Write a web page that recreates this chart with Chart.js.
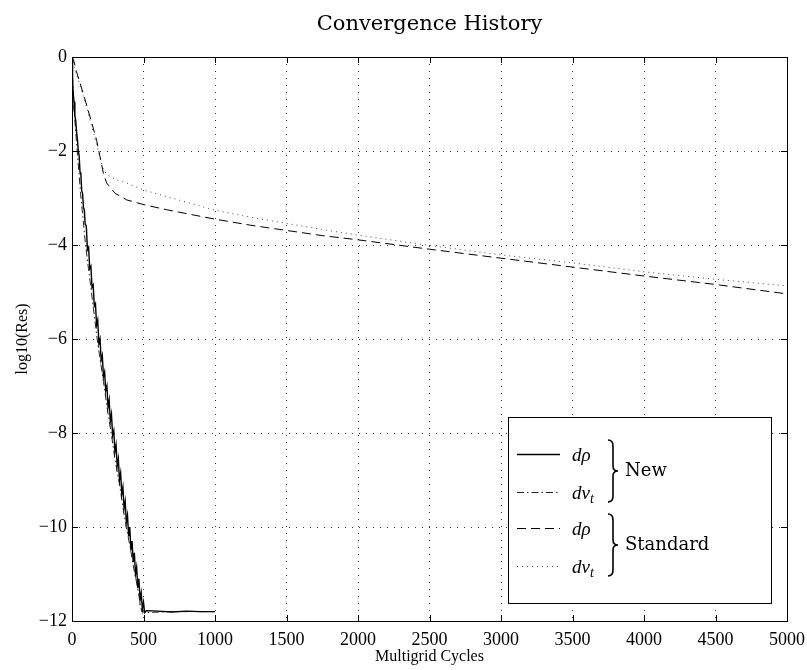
<!DOCTYPE html>
<html lang="en">
<head>
    <meta charset="UTF-8">
    <title>Convergence History</title>
    <script src="https://cdn.jsdelivr.net/npm/chart.js"></script>
    <style>
        body { margin: 0; background: #fff; }
        #wrap { width: 807px; height: 670px; }
    </style>
</head>
<body>
    <div id="wrap"><canvas id="convChart"></canvas></div>

    <script>
        // New scheme, d rho (solid)
        const newRhoX = [0, 4, 8, 14, 20, 26, 32, 38, 44, 50, 56, 62, 68, 74, 80, 86, 92, 100, 108, 116, 124, 132, 140, 148, 156, 164, 172, 180, 188, 196, 204, 212, 220, 228, 236, 244, 252, 260, 268, 276, 284, 292, 300, 308, 316, 324, 332, 340, 348, 356, 364, 372, 380, 388, 396, 404, 412, 420, 428, 436, 444, 452, 460, 468, 476, 484, 492, 500, 508, 520, 600, 700, 800, 900, 1000];
        const newRhoY = [-0.05, -0.45, -0.75, -0.95, -1.25, -1.35, -1.6, -1.75, -2.0, -2.1, -2.45, -2.5, -2.85, -2.9, -3.2, -3.25, -3.55, -3.6, -4.1, -4.05, -4.5, -4.45, -4.9, -4.85, -5.3, -5.25, -5.7, -5.6, -6.1, -6.0, -6.45, -6.35, -6.8, -6.7, -7.1, -7.0, -7.45, -7.3, -7.75, -7.6, -8.05, -7.95, -8.4, -8.25, -8.7, -8.55, -9.0, -8.85, -9.3, -9.15, -9.6, -9.45, -9.9, -9.75, -10.2, -10.0, -10.5, -10.3, -10.75, -10.55, -11.0, -10.85, -11.3, -11.1, -11.55, -11.4, -11.75, -11.6, -11.82, -11.78, -11.79, -11.81, -11.79, -11.8, -11.8];

        // New scheme, d nu_t (dash-dot)
        const newNuX = [0, 5, 10, 30, 60, 95, 115, 130, 150, 176, 200, 220, 245, 274, 300, 330, 355, 379, 405, 430, 450, 470, 487, 520, 700, 1000];
        const newNuY = [-0.1, -0.6, -0.95, -1.75, -2.9, -4.0, -4.5, -4.85, -5.35, -6.0, -6.5, -6.9, -7.45, -8.0, -8.55, -9.05, -9.55, -10.0, -10.4, -10.85, -11.15, -11.5, -11.8, -11.82, -11.8, -11.8];

        // Standard scheme, d rho (dashed)
        const stdRhoX = [0, 10, 30, 56, 100, 138, 172, 196, 219, 242, 301, 382, 500, 662, 1000, 1250, 1500, 1750, 2000, 2500, 3000, 3500, 4000, 4500, 5000];
        const stdRhoY = [0, -0.05, -0.3, -0.55, -1.0, -1.4, -1.77, -2.12, -2.47, -2.68, -2.9, -3.04, -3.14, -3.25, -3.45, -3.58, -3.69, -3.8, -3.89, -4.09, -4.28, -4.47, -4.66, -4.84, -5.04];

        // Standard scheme, d nu_t (dotted)
        const stdNuX = [0, 14, 50, 100, 140, 184, 215, 242, 300, 382, 500, 615, 1000, 1250, 1500, 1750, 2000, 2500, 3000, 3500, 4000, 4500, 5000];
        const stdNuY = [0, -0.2, -0.55, -1.05, -1.5, -2.0, -2.35, -2.5, -2.6, -2.68, -2.83, -2.93, -3.26, -3.41, -3.54, -3.67, -3.79, -4.01, -4.21, -4.38, -4.57, -4.73, -4.87];

        const legendSymbols = ['dρ', 'dν', 'dρ', 'dν'];
        const legendSubs = ['', 't', '', 't'];
        const legendGroups = ['New', 'Standard'];
        const chartTitle = 'Convergence History';

        const toPoints = (xs, ys) => xs.map((x, i) => ({ x: x, y: ys[i] }));
        const serif = 'Liberation Serif';
        const cmLike = 'DejaVu Serif';

        // title over the plot, box, inward tick marks and the bracketed legend
        const framePlugin = {
            id: 'frame',
            afterDraw(chart) {
                const ctx = chart.ctx;
                const a = chart.chartArea;
                const xs = chart.scales.x, ys = chart.scales.y;
                ctx.save();

                ctx.fillStyle = '#000';
                ctx.font = '21px ' + cmLike;
                ctx.textAlign = 'center';
                ctx.textBaseline = 'middle';
                ctx.fillText(chartTitle, (a.left + a.right) / 2, 25);

                ctx.strokeStyle = '#000';
                ctx.lineWidth = 1;
                ctx.setLineDash([]);
                ctx.strokeRect(a.left + 0.5, a.top + 0.5, a.right - a.left, a.bottom - a.top);
                ctx.beginPath();
                xs.ticks.forEach(t => {
                    const px = Math.round(xs.getPixelForValue(t.value)) + 0.5;
                    ctx.moveTo(px, a.bottom); ctx.lineTo(px, a.bottom - 6);
                    ctx.moveTo(px, a.top); ctx.lineTo(px, a.top + 6);
                });
                ys.ticks.forEach(t => {
                    const py = Math.round(ys.getPixelForValue(t.value)) + 0.5;
                    ctx.moveTo(a.left, py); ctx.lineTo(a.left + 6, py);
                    ctx.moveTo(a.right, py); ctx.lineTo(a.right - 6, py);
                });
                ctx.stroke();

                // legend box
                const bx = a.right - 279, by = a.bottom - 204, bw = 263, bh = 186;
                ctx.fillStyle = '#fff';
                ctx.fillRect(bx, by, bw, bh);
                ctx.strokeRect(bx + 0.5, by + 0.5, bw, bh);

                const rowY = [37, 75, 111, 149];
                ctx.textAlign = 'left';
                chart.data.datasets.forEach((ds, i) => {
                    const y = by + rowY[i] + 0.5;
                    ctx.strokeStyle = ds.borderColor;
                    ctx.lineWidth = ds.borderWidth;
                    ctx.setLineDash(ds.borderDash || []);
                    ctx.beginPath();
                    ctx.moveTo(bx + 9, y); ctx.lineTo(bx + 52, y);
                    ctx.stroke();
                    ctx.setLineDash([]);
                    ctx.fillStyle = '#000';
                    ctx.textBaseline = 'alphabetic';
                    ctx.font = 'italic 19px ' + serif;
                    ctx.fillText(legendSymbols[i], bx + 64, y + 6);
                    if (legendSubs[i]) {
                        const w = ctx.measureText(legendSymbols[i]).width;
                        ctx.font = 'italic 14px ' + serif;
                        ctx.fillText(legendSubs[i], bx + 64 + w, y + 10);
                    }
                });

                // braces and group names
                ctx.strokeStyle = '#000';
                ctx.lineWidth = 1.6;
                [[23, 85], [97, 159]].forEach((r, g) => {
                    const top = by + r[0], bot = by + r[1], mid = (top + bot) / 2;
                    const x0 = bx + 100, x1 = bx + 105, x2 = bx + 110;
                    ctx.beginPath();
                    ctx.moveTo(x0, top);
                    ctx.quadraticCurveTo(x1, top, x1, top + 6);
                    ctx.lineTo(x1, mid - 5);
                    ctx.quadraticCurveTo(x1, mid, x2, mid);
                    ctx.quadraticCurveTo(x1, mid, x1, mid + 5);
                    ctx.lineTo(x1, bot - 6);
                    ctx.quadraticCurveTo(x1, bot, x0, bot);
                    ctx.stroke();
                    ctx.fillStyle = '#000';
                    ctx.font = '18px ' + cmLike;
                    ctx.textBaseline = 'middle';
                    ctx.fillText(legendGroups[g], bx + 117, mid);
                });
                ctx.restore();
            }
        };

        const ctx = document.getElementById('convChart').getContext('2d');
        const chart = new Chart(ctx, {
            type: 'line',
            data: {
                datasets: [
                    { label: 'New dρ', data: toPoints(newRhoX, newRhoY), borderColor: '#000', borderWidth: 1.4, borderDash: [] },
                    { label: 'New dνt', data: toPoints(newNuX, newNuY), borderColor: '#222', borderWidth: 1, borderDash: [7, 3, 1.5, 3] },
                    { label: 'Standard dρ', data: toPoints(stdRhoX, stdRhoY), borderColor: '#000', borderWidth: 1, borderDash: [9, 5] },
                    { label: 'Standard dνt', data: toPoints(stdNuX, stdNuY), borderColor: '#444', borderWidth: 1, borderDash: [1, 4] }
                ]
            },
            options: {
                responsive: true,
                maintainAspectRatio: false,
                animation: false,
                elements: { point: { radius: 0 }, line: { tension: 0 } },
                layout: { padding: { left: 0, right: 20, top: 57, bottom: 0 } },
                plugins: {
                    legend: { display: false },
                    tooltip: { enabled: false },
                    title: { display: false }
                },
                scales: {
                    x: {
                        type: 'linear',
                        min: 0,
                        max: 5000,
                        afterFit: s => { s.height = 49; s.paddingRight = 0; s.paddingLeft = 0; },
                        ticks: { stepSize: 500, color: '#000', padding: 8, maxRotation: 0, font: { family: serif, size: 18 }, callback: v => String(v) },
                        grid: { color: '#333', drawTicks: false },
                        border: { display: false, dash: [1, 6] },
                        title: { display: true, text: 'Multigrid Cycles', color: '#000', font: { family: serif, size: 16 }, padding: { top: 0, bottom: 4 } }
                    },
                    y: {
                        min: -12,
                        max: 0,
                        afterFit: s => { s.width = 72; },
                        ticks: {
                            stepSize: 2, color: '#000', padding: 5, font: { family: serif, size: 18 },
                            callback: v => String(v).replace('-', '\u2212')
                        },
                        grid: { color: '#333', drawTicks: false },
                        border: { display: false, dash: [1, 6] },
                        title: { display: true, text: 'log10(Res)', color: '#000', font: { family: serif, size: 16 }, padding: { top: 13, bottom: 0 } }
                    }
                }
            },
            plugins: [framePlugin]
        });
    </script>
</body>
</html>
